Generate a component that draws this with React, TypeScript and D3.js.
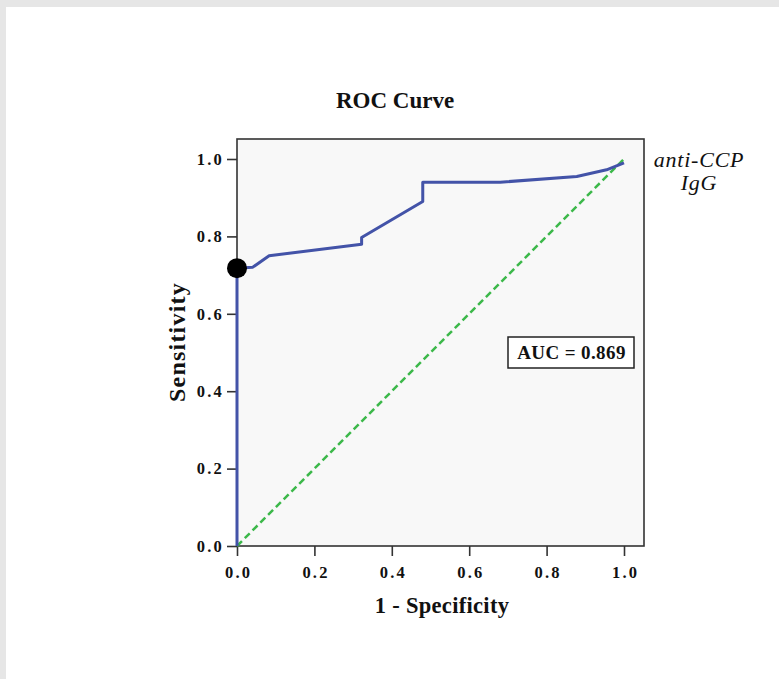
import React, { useEffect, useRef } from "react";
import * as d3 from "d3";

// ROC points
const fpr = [0, 0, 0.04, 0.083, 0.322, 0.322, 0.48, 0.48, 0.68, 0.878, 0.955, 1.0];
const tpr = [0, 0.718, 0.72, 0.75, 0.78, 0.797, 0.89, 0.94, 0.94, 0.955, 0.972, 0.99];
const refLine = [0, 1];
const tickValues = [0, 0.2, 0.4, 0.6, 0.8, 1.0];
const cutoffPoint = { x: 0, y: 0.718 };
const aucLabel = "AUC = 0.869";
const seriesName = ["anti-CCP", "IgG"];

const App = () => {
  const svgRef = useRef<SVGSVGElement>(null);

  useEffect(() => {
    const svg = d3.select(svgRef.current);
    svg.selectAll("*").remove();

    const W = 779,
      H = 679;
    const left = 237,
      right = 644,
      top = 139,
      bottom = 546;
    const unit = 387;

    const x = d3
      .scaleLinear()
      .domain([0, (right - left) / unit])
      .range([left, right]);
    const y = d3
      .scaleLinear()
      .domain([0, (bottom - top) / unit])
      .range([bottom, top]);

    // page background + white panel
    svg.append("rect").attr("width", W).attr("height", H).attr("fill", "#e6e6e6");
    svg.append("rect").attr("x", 6).attr("y", 7).attr("width", W - 6).attr("height", H - 7).attr("fill", "#ffffff");

    // plot area
    svg
      .append("rect")
      .attr("x", left)
      .attr("y", top)
      .attr("width", right - left)
      .attr("height", bottom - top)
      .attr("fill", "#f8f8f8")
      .attr("stroke", "#333")
      .attr("stroke-width", 1.6);

    const font = "'Liberation Serif', 'Times New Roman', serif";

    const styleTicks = (g: any) => {
      g.select(".domain").remove();
      g.selectAll(".tick line").attr("stroke", "#333").attr("stroke-width", 1.6);
      g.selectAll("text")
        .attr("fill", "#111")
        .attr("font-family", font)
        .attr("font-size", 16.5)
        .attr("font-weight", "bold")
        .attr("letter-spacing", 2.2);
    };

    // y axis
    svg
      .append("g")
      .attr("transform", `translate(${left},0)`)
      .call(d3.axisLeft(y).tickValues(tickValues).tickSize(10).tickPadding(3).tickFormat(d3.format(".1f")))
      .call(styleTicks);

    // x axis
    svg
      .append("g")
      .attr("transform", `translate(0,${bottom})`)
      .call(d3.axisBottom(x).tickValues(tickValues).tickSize(10).tickPadding(10).tickFormat(d3.format(".1f")))
      .call(styleTicks)
      .call((g) => g.selectAll("text").attr("dx", "1.1px"));

    // reference diagonal
    svg
      .append("line")
      .attr("x1", x(refLine[0]))
      .attr("y1", y(refLine[0]))
      .attr("x2", x(refLine[1]))
      .attr("y2", y(refLine[1]))
      .attr("stroke", "#3cb84a")
      .attr("stroke-width", 2.5)
      .attr("stroke-dasharray", "7,4");

    // ROC curve
    const pts = fpr.map((f, i) => [f, tpr[i]] as [number, number]);
    const line = d3
      .line<[number, number]>()
      .x((d) => x(d[0]))
      .y((d) => y(d[1]));
    svg
      .append("path")
      .datum(pts)
      .attr("fill", "none")
      .attr("stroke", "#4353a8")
      .attr("stroke-width", 3)
      .attr("stroke-linejoin", "round")
      .attr("d", line);

    // cut-off marker
    svg
      .append("circle")
      .attr("cx", x(cutoffPoint.x))
      .attr("cy", y(cutoffPoint.y))
      .attr("r", 10)
      .attr("fill", "#000");

    // AUC box
    svg
      .append("rect")
      .attr("x", 508)
      .attr("y", 337)
      .attr("width", 126)
      .attr("height", 31)
      .attr("fill", "#fff")
      .attr("stroke", "#222")
      .attr("stroke-width", 1.5);
    svg
      .append("text")
      .attr("x", 571.5)
      .attr("y", 359)
      .attr("text-anchor", "middle")
      .attr("font-family", font)
      .attr("font-weight", "bold")
      .attr("font-size", 19)
      .attr("letter-spacing", 0.4)
      .attr("fill", "#111")
      .text(aucLabel);

    // series name
    svg
      .append("text")
      .attr("font-family", font)
      .attr("font-style", "italic")
      .attr("font-size", 22)
      .attr("letter-spacing", 0.8)
      .attr("fill", "#111")
      .attr("text-anchor", "middle")
      .selectAll("tspan")
      .data(seriesName)
      .join("tspan")
      .attr("x", 699)
      .attr("y", (d, i) => 167 + i * 23)
      .text((d) => d);

    // title
    svg
      .append("text")
      .attr("x", 395)
      .attr("y", 108)
      .attr("text-anchor", "middle")
      .attr("font-family", font)
      .attr("font-weight", "bold")
      .attr("font-size", 23)
      .attr("fill", "#111")
      .text("ROC Curve");

    // axis titles
    svg
      .append("text")
      .attr("x", 442)
      .attr("y", 613)
      .attr("text-anchor", "middle")
      .attr("font-family", font)
      .attr("font-weight", "bold")
      .attr("font-size", 22.5)
      .attr("letter-spacing", 0.3)
      .attr("fill", "#111")
      .text("1 - Specificity");

    svg
      .append("text")
      .attr("transform", `translate(185,342) rotate(-90)`)
      .attr("text-anchor", "middle")
      .attr("font-family", font)
      .attr("font-weight", "bold")
      .attr("font-size", 24)
      .attr("letter-spacing", 1.2)
      .attr("fill", "#111")
      .text("Sensitivity");
  }, []);

  return (
    <div style={{ position: "absolute", left: 0, top: 0 }}>
      <svg ref={svgRef} width={779} height={679} style={{ display: "block" }}></svg>
    </div>
  );
};

export default App;
